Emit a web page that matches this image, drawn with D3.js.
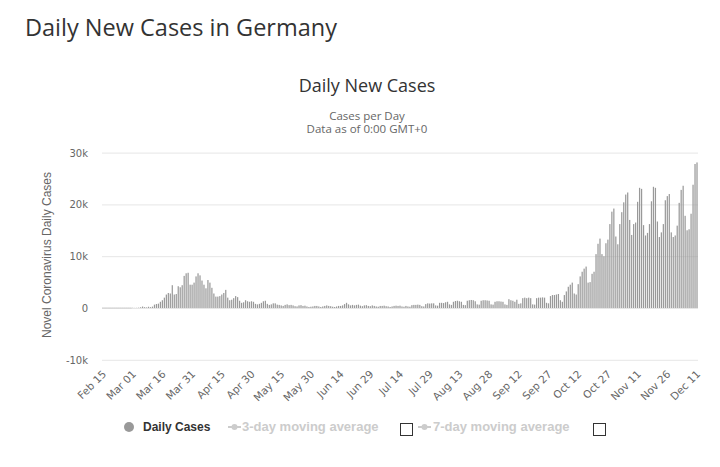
<!DOCTYPE html>
<html><head><meta charset="utf-8">
<script src="https://cdn.jsdelivr.net/npm/d3@7"></script>
<style>body{margin:0;background:#fff} svg{display:block}</style>
</head><body><svg id="c" width="720" height="467"></svg>
<script>
const startDate = new Date(2020, 1, 15);
const dailyCases = [
  0,0,0,0,0,0,0,0,0,0,
  0,0,0,0,0,50,30,40,70,140,
  280,160,120,240,160,270,650,770,840,1200,
  1500,2000,2600,2900,2800,4400,2600,2700,4200,4000,
  4400,6200,6700,6800,4500,4500,4900,6100,6700,6300,
  5300,4500,3800,5400,4900,3900,2800,2200,2200,2300,
  2600,2900,3500,2000,1500,1600,1900,2300,2100,1400,
  1000,1100,1500,1300,1200,1300,1200,800,700,800,
  1000,1300,1400,800,600,700,900,900,650,600,
  500,400,600,700,550,600,500,350,300,500,
  550,400,450,300,200,250,300,400,400,300,
  200,300,400,500,400,350,250,200,300,400,
  400,500,750,1000,700,500,600,500,600,650,
  450,350,500,550,400,350,500,400,300,250,
  400,400,450,350,300,200,300,400,450,400,
  450,300,250,400,300,250,550,600,600,650,
  600,350,300,750,900,850,900,900,500,450,
  1000,1000,950,1100,1200,700,600,1200,1350,1400,
  1300,1200,600,550,1400,1500,1550,1500,1300,700,
  650,1400,1500,1500,1450,1400,700,650,1200,1300,
  1300,1250,1200,700,600,1700,1500,1400,1200,1600,
  800,900,1900,2000,1900,2000,1900,700,650,1900,
  2000,2000,2050,2000,1000,900,2300,2500,2500,2600,
  2700,1500,1200,2500,3200,4100,4500,4900,2800,2600,
  4600,6100,7000,7600,8000,4900,5000,6600,7000,10400,
  12400,13400,10400,10000,12500,13200,16200,18600,19200,13800,
  12300,16200,18500,20400,21900,22300,17000,14100,16200,16500,
  20500,23200,23000,16000,14000,14500,16200,20600,23400,23200,
  16700,13700,14600,16200,20800,21600,22000,14600,13700,14000,
  15900,20300,22800,23600,17800,15000,15200,18200,23800,27800,
  28100
];
const categories = d3.timeDay.range(startDate, d3.timeDay.offset(startDate, dailyCases.length)).map(d3.timeFormat("%b %d"));
const xTickLabels = ["Feb 15","Mar 01","Mar 16","Mar 31","Apr 15","Apr 30","May 15","May 30","Jun 14","Jun 29","Jul 14","Jul 29","Aug 13","Aug 28","Sep 12","Sep 27","Oct 12","Oct 27","Nov 11","Nov 26","Dec 11"];
const yTicks = [-10000, 0, 10000, 20000, 30000];
const yTickLabels = ["-10k", "0", "10k", "20k", "30k"];
const pageTitle = "Daily New Cases in Germany";
const chartTitle = "Daily New Cases";
const subtitles = ["Cases per Day", "Data as of 0:00 GMT+0"];
const yAxisTitle = "Novel Coronavirus Daily Cases";
const legendItems = ["Daily Cases", "3-day moving average", "7-day moving average"];

const svg = d3.select("#c");
const plot = {left: 102, right: 698, top: 152.6, bottom: 359.8};
const barPad = 0.38;
const x = d3.scaleBand().domain(categories).range([plot.left, plot.right])
  .paddingInner(barPad).paddingOuter(barPad / 2);
const y = d3.scaleLinear().domain([-10000, 30000]).range([plot.bottom, plot.top]);

// titles
svg.append("text").attr("x", 25).attr("y", 36).text(pageTitle)
  .attr("font-family", "Open Sans").attr("font-size", 23.5).attr("fill", "#333");
svg.append("text").attr("x", 367).attr("y", 92).attr("text-anchor", "middle").text(chartTitle)
  .attr("font-family", "Open Sans").attr("font-size", 18).attr("fill", "#333");
subtitles.forEach((s, i) => svg.append("text").attr("x", 367).attr("y", 119.5 + i * 13.5)
  .attr("text-anchor", "middle").text(s)
  .attr("font-family", "Open Sans").attr("font-size", 11.5).attr("fill", "#666"));

// grid
const grid = svg.append("g").attr("transform", `translate(${plot.left},0)`)
  .call(d3.axisLeft(y).tickValues(yTicks).tickSize(-(plot.right - plot.left)).tickFormat(""));
grid.select(".domain").remove();
grid.selectAll(".tick line").attr("stroke", "#e6e6e6");

// y labels
const yAx = svg.append("g").attr("transform", `translate(${plot.left - 14},0)`)
  .call(d3.axisLeft(y).tickValues(yTicks).tickSize(0).tickPadding(0)
    .tickFormat(d => yTickLabels[yTicks.indexOf(d)]));
yAx.select(".domain").remove();
yAx.selectAll("text").attr("font-family", "DejaVu Sans").attr("font-size", 10).attr("fill", "#666").attr("dy", "0.35em");

svg.append("text").attr("transform", `translate(51,255) rotate(-90)`).attr("text-anchor", "middle")
  .text(yAxisTitle).attr("font-family", "Liberation Sans").attr("font-size", 12).attr("fill", "#666");

// bars
svg.append("g").selectAll("rect").data(dailyCases).join("rect")
  .attr("x", (d, i) => d === 0 ? x(categories[i]) - x.step() * barPad / 2 : x(categories[i]))
  .attr("width", d => d === 0 ? x.step() : x.bandwidth())
  .attr("y", d => d === 0 ? y(0) - 0.5 : y(Math.max(0, d)))
  .attr("height", d => d === 0 ? 1 : Math.abs(y(d) - y(0)))
  .attr("fill", d => d === 0 ? "#ccc" : "#999");

// x labels
const xAx = svg.append("g").attr("transform", `translate(0,${plot.bottom})`)
  .call(d3.axisBottom(x).tickValues(xTickLabels).tickSize(0).tickPadding(0));
xAx.select(".domain").remove();
xAx.selectAll("text").attr("font-family", "DejaVu Sans").attr("font-size", 10.5).attr("fill", "#666")
  .attr("text-anchor", "end").attr("dy", 0)
  .attr("transform", "translate(4,15) rotate(-45)");

// legend
const lg = svg.append("g").attr("font-family", "Liberation Sans").attr("font-weight", "bold");
lg.append("circle").attr("cx", 129).attr("cy", 427).attr("r", 5).attr("fill", "#999");
lg.append("text").attr("x", 143).attr("y", 431).text(legendItems[0]).attr("fill", "#333").attr("font-size", 12);
[[228, 242, 400], [418, 433, 593]].forEach((p, k) => {
  lg.append("line").attr("x1", p[0]).attr("x2", p[0] + 13).attr("y1", 427).attr("y2", 427).attr("stroke", "#ccc").attr("stroke-width", 2);
  lg.append("circle").attr("cx", p[0] + 6.5).attr("cy", 427).attr("r", 3).attr("fill", "#ccc");
  lg.append("text").attr("x", p[1]).attr("y", 431).text(legendItems[k + 1]).attr("fill", "#ccc").attr("font-size", 13);
  lg.append("rect").attr("x", p[2] + 0.5).attr("y", 423.5).attr("width", 12).attr("height", 12)
    .attr("fill", "#fff").attr("stroke", "#333").attr("stroke-width", 1);
});
</script></body></html>
